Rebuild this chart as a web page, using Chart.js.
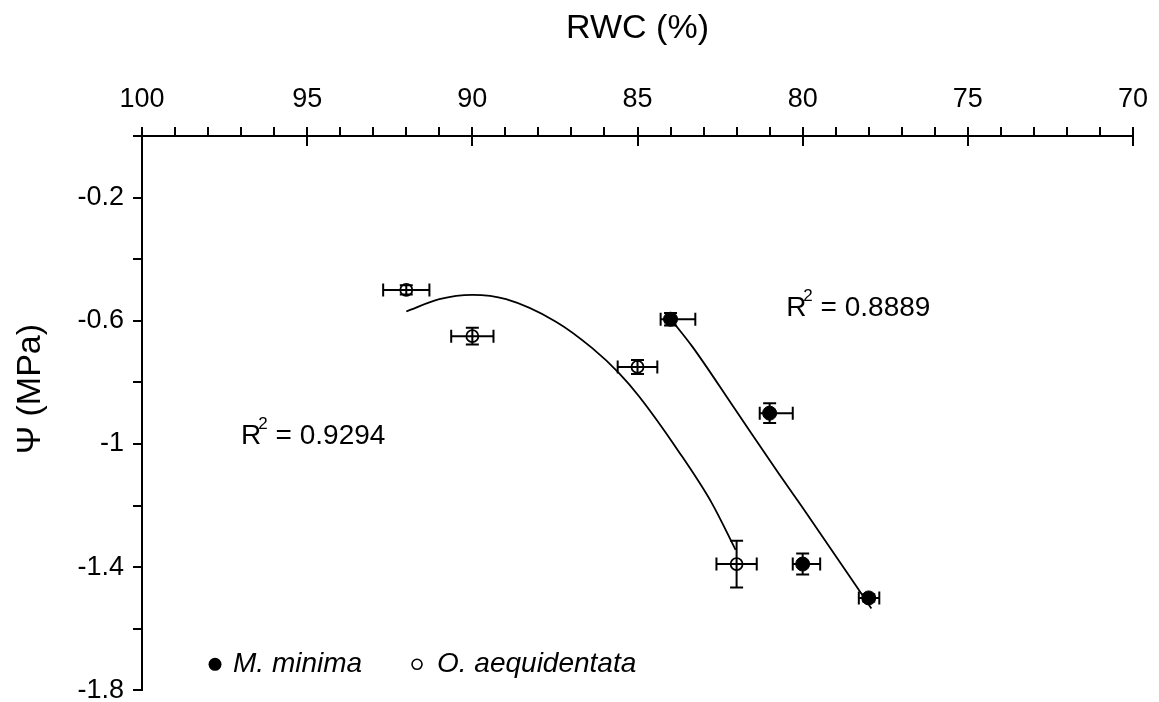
<!DOCTYPE html>
<html><head><meta charset="utf-8">
<script src="https://cdn.jsdelivr.net/npm/chart.js@4/dist/chart.umd.min.js"></script>
<style>html,body{margin:0;padding:0;background:#fff;}canvas{display:block;}</style>
</head><body>
<canvas id="c" width="1159" height="702"></canvas>
<script>
const FONT = "'Liberation Sans', Arial, Helvetica, sans-serif";

// M. minima (filled)
const rwcMinima = [84, 81, 80, 78];
const psiMinima = [-0.595, -0.90, -1.39, -1.50];
const rwcErrMinimaHigh = [0.30, 0.30, 0.30, 0.30];
const rwcErrMinimaLow = [0.75, 0.70, 0.53, 0.32];
const psiErrMinima = [0.02, 0.032, 0.034, 0.012];

// O. aequidentata (open)
const rwcAeq = [92, 90, 85, 82];
const psiAeq = [-0.50, -0.65, -0.75, -1.39];
const rwcErrAeq = [0.70, 0.64, 0.60, 0.61];
const psiErrAeq = [0.015, 0.027, 0.023, 0.076];

// fitted curves
const fitAeqRwc = [92.0, 91.0, 90.0, 88.98, 87.47, 86.37, 85.56, 84.95, 83.75, 82.75, 82.03];
const fitAeqPsi = [-0.570, -0.530, -0.516, -0.530, -0.603, -0.689, -0.770, -0.846, -1.025, -1.192, -1.344];
const fitMinRwc = [84.0, 83.34, 82.03, 80.73, 80.02, 78.71, 77.92];
const fitMinPsi = [-0.594, -0.684, -0.890, -1.095, -1.204, -1.409, -1.534];

// tick labels
const xTickLabels = [100, 95, 90, 85, 80, 75, 70];
const xMajorTicks = [100, 95, 90, 85, 80, 75, 70];
const yTickLabels = [-0.2, -0.6, -1, -1.4, -1.8];

// annotations
const r2Texts = ['0.9294', '0.8889'];
const r2AnchorRwc = [97, 80.5];
const r2AnchorPsi = [-1.0, -0.585];
const legendNames = ['M. minima', 'O. aequidentata'];

const toXY = (xs, ys) => xs.map((v, i) => ({x: v, y: ys[i]}));

const decor = {
  id: 'decor',
  beforeDatasetsDraw(chart) {
    const {ctx, scales: {x, y}} = chart;
    const cap = 6.5;
    ctx.save();
    ctx.strokeStyle = '#000';
    ctx.lineWidth = 2;
    function bars(xs, ys, exHigh, exLow, ey) {
      for (let i = 0; i < xs.length; i++) {
        const px = x.getPixelForValue(xs[i]);
        const py = y.getPixelForValue(ys[i]);
        const xl = x.getPixelForValue(xs[i] + exHigh[i]);
        const xr = x.getPixelForValue(xs[i] - exLow[i]);
        const yt = y.getPixelForValue(ys[i] + ey[i]);
        const yb = y.getPixelForValue(ys[i] - ey[i]);
        ctx.beginPath();
        ctx.moveTo(xl, py); ctx.lineTo(xr, py);
        ctx.moveTo(xl, py - cap); ctx.lineTo(xl, py + cap);
        ctx.moveTo(xr, py - cap); ctx.lineTo(xr, py + cap);
        ctx.moveTo(px, yt); ctx.lineTo(px, yb);
        ctx.moveTo(px - cap, yt); ctx.lineTo(px + cap, yt);
        ctx.moveTo(px - cap, yb); ctx.lineTo(px + cap, yb);
        ctx.stroke();
      }
    }
    bars(rwcMinima, psiMinima, rwcErrMinimaHigh, rwcErrMinimaLow, psiErrMinima);
    bars(rwcAeq, psiAeq, rwcErrAeq, rwcErrAeq, psiErrAeq);
    ctx.restore();
  },
  afterDraw(chart) {
    const {ctx, scales: {x, y}, chartArea} = chart;
    ctx.save();
    // inward part of major x ticks
    ctx.strokeStyle = '#000';
    ctx.lineWidth = 2;
    ctx.beginPath();
    xMajorTicks.forEach(v => {
      const px = Math.round(x.getPixelForValue(v));
      ctx.moveTo(px, chartArea.top); ctx.lineTo(px, chartArea.top + 10);
    });
    ctx.stroke();

    ctx.fillStyle = '#000';
    // y axis title
    ctx.save();
    ctx.font = '34px ' + FONT;
    ctx.textAlign = 'center';
    ctx.textBaseline = 'middle';
    ctx.translate(chartArea.left - 111, (chartArea.top + chartArea.bottom) / 2 - 24);
    ctx.rotate(-Math.PI / 2);
    ctx.fillText('Ψ (MPa)', 0, 0);
    ctx.restore();

    // R² annotations
    ctx.textAlign = 'left';
    ctx.textBaseline = 'alphabetic';
    r2Texts.forEach((t, i) => {
      let px = x.getPixelForValue(r2AnchorRwc[i]);
      const py = y.getPixelForValue(r2AnchorPsi[i]);
      ctx.font = '28px ' + FONT;
      ctx.fillText('R', px, py);
      px += ctx.measureText('R').width - 3;
      ctx.font = '17px ' + FONT;
      ctx.fillText('2', px, py - 15);
      px += ctx.measureText('2').width;
      ctx.font = '28px ' + FONT;
      ctx.fillText(' = ' + t, px, py);
    });

    // legend
    const lx = chartArea.left, ly = chartArea.bottom;
    ctx.beginPath();
    ctx.arc(lx + 73, ly - 26, 6.5, 0, Math.PI * 2);
    ctx.fill();
    ctx.beginPath();
    ctx.lineWidth = 1.6;
    ctx.arc(lx + 275, ly - 26, 5, 0, Math.PI * 2);
    ctx.stroke();
    ctx.font = 'italic 28px ' + FONT;
    ctx.fillText(legendNames[0], lx + 91, ly - 18);
    ctx.fillText(legendNames[1], lx + 295, ly - 18);
    ctx.restore();
  }
};

new Chart(document.getElementById('c'), {
  type: 'scatter',
  data: {
    datasets: [
      {label: 'M. minima', data: toXY(rwcMinima, psiMinima), showLine: false,
       pointRadius: 7, pointBackgroundColor: '#000', pointBorderColor: '#000', pointBorderWidth: 1, order: 0},
      {label: 'O. aequidentata', data: toXY(rwcAeq, psiAeq), showLine: false,
       pointRadius: 6, pointBackgroundColor: 'rgba(0,0,0,0)', pointBorderColor: '#000', pointBorderWidth: 1.8, order: 0},
      {label: 'M. minima fit', data: toXY(fitMinRwc, fitMinPsi), showLine: true, pointRadius: 0,
       borderColor: '#000', borderWidth: 1.8, cubicInterpolationMode: 'monotone', fill: false, order: 1},
      {label: 'O. aequidentata fit', data: toXY(fitAeqRwc, fitAeqPsi), showLine: true, pointRadius: 0,
       borderColor: '#000', borderWidth: 1.8, cubicInterpolationMode: 'monotone', fill: false, order: 1}
    ]
  },
  options: {
    responsive: false,
    animation: false,
    events: [],
    layout: {padding: {top: 6.6, left: 68.5, right: 24, bottom: 0}},
    plugins: {legend: {display: false}, tooltip: {enabled: false}},
    scales: {
      x: {
        type: 'linear', position: 'top', reverse: true, min: 70, max: 100,
        ticks: {stepSize: 1, autoSkip: false, maxRotation: 0, color: '#000', padding: 11,
                font: {family: FONT, size: 27},
                callback: v => xTickLabels.includes(v) ? String(v) : ''},
        grid: {display: true, drawOnChartArea: false, drawTicks: true, tickLength: 9, color: '#000', lineWidth: 2},
        border: {display: true, color: '#000', width: 2},
        title: {display: true, text: 'RWC (%)', color: '#000', font: {family: FONT, size: 34},
                padding: {top: 2, bottom: 23.2}}
      },
      y: {
        type: 'linear', position: 'left', min: -1.8, max: 0,
        ticks: {stepSize: 0.2, autoSkip: false, color: '#000', padding: 9,
                font: {family: FONT, size: 27, lineHeight: 0.2},
                callback: v => { const r = Math.round(v * 10) / 10; return yTickLabels.includes(r) ? String(r) : ''; }},
        grid: {display: true, drawOnChartArea: false, drawTicks: true, tickLength: 9, color: '#000', lineWidth: 2},
        border: {display: true, color: '#000', width: 2}
      }
    }
  },
  plugins: [decor]
});
</script>
</body></html>
